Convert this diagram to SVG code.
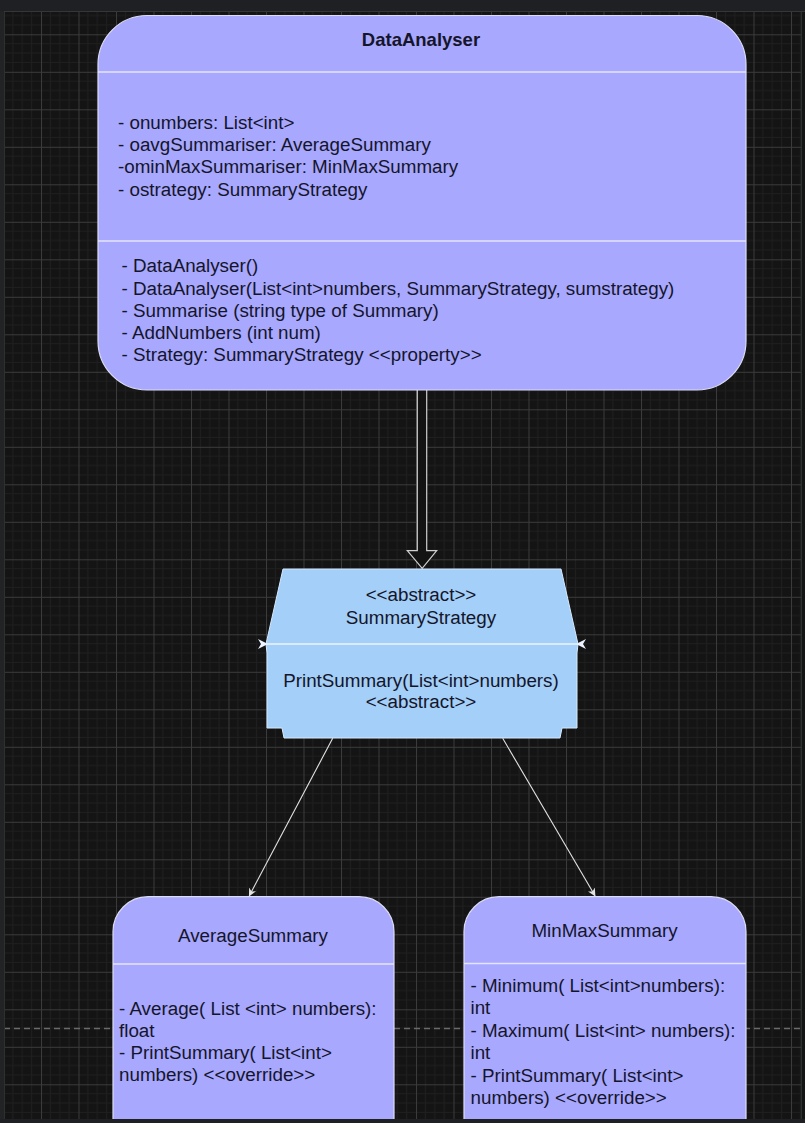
<svg xmlns="http://www.w3.org/2000/svg" width="805" height="1123" viewBox="0 0 805 1123">
  <defs>
    <style>
      .txt { font-family: "Liberation Sans", Arial, sans-serif; font-size: 18.8px; fill: #15152a; }
      .bold { font-weight: bold; font-size: 18.5px; }
      .mid { text-anchor: middle; }
      .cls { fill: #a8a8ff; stroke: #dcdcf4; stroke-width: 1.2; }
      .div { stroke: #e4e4ff; stroke-width: 1.5; fill: none; }
      .link { stroke: #e2e2e2; stroke-width: 1.1; fill: none; }
    </style>
    <!-- canvas grid: fine lines every 9.375, heavier every 37.5 -->
    <pattern id="grid" x="3.5" y="-3.2" width="37.5" height="37.5" patternUnits="userSpaceOnUse">
      <path d="M9.375 0V37.5M18.75 0V37.5M28.125 0V37.5M0 9.375H37.5M0 18.75H37.5M0 28.125H37.5" stroke="#1f1f1f" stroke-width="1" fill="none"/>
      <path d="M0.5 0V37.5M0 0.5H37.5" stroke="#3b3b3b" stroke-width="1" fill="none"/>
    </pattern>
    <marker id="classic" viewBox="0 0 10 10" refX="9" refY="5" markerWidth="8" markerHeight="8" markerUnits="userSpaceOnUse" orient="auto">
      <path d="M0 0L10 5L0 10L3 5Z" fill="#e2e2e2"/>
    </marker>
    <marker id="half" viewBox="0 0 10 10" refX="1" refY="5" markerWidth="10" markerHeight="10" markerUnits="userSpaceOnUse" orient="auto-start-reverse">
      <path d="M10 0L0 5L10 10L7 5Z" fill="#eef4ff"/>
    </marker>
  </defs>

  <!-- canvas -->
  <rect x="0" y="0" width="805" height="1123" fill="#141414"/>
  <rect x="4" y="12" width="797" height="1107" fill="url(#grid)"/>
  <line x1="4" y1="1028.5" x2="801" y2="1028.5" stroke="#6a6a6a" stroke-width="1.5" stroke-dasharray="6 4"/>

  <!-- connectors -->
  <g id="connectors">
    <path d="M417.3 390V550.7H407.3L422.2 568.3L436.7 550.7H426.7V390" fill="#131313" stroke="#cfcfcf" stroke-width="1.2"/>
    <line class="link" x1="332.7" y1="738.3" x2="249.3" y2="895.7" marker-end="url(#classic)"/>
    <line class="link" x1="502.7" y1="738.3" x2="595" y2="895.7" marker-end="url(#classic)"/>
  </g>

  <!-- DataAnalyser class -->
  <g id="DataAnalyser">
    <path class="cls" d="M147 15.5H697A49 49 0 0 1 746 64.5V341A49 49 0 0 1 697 390H147A49 49 0 0 1 98 341V64.5A49 49 0 0 1 147 15.5Z"/>
    <line class="div" x1="98" y1="72" x2="746" y2="72"/>
    <line class="div" x1="98" y1="241" x2="746" y2="241"/>
    <text class="txt bold mid" x="421" y="46">DataAnalyser</text>
    <text class="txt" x="118" y="129.3">- onumbers: List&lt;int&gt;</text>
    <text class="txt" x="118" y="151.3">- oavgSummariser: AverageSummary</text>
    <text class="txt" x="118" y="173.3">-ominMaxSummariser: MinMaxSummary</text>
    <text class="txt" x="118" y="195.5">- ostrategy: SummaryStrategy</text>
    <text class="txt" x="121.5" y="272.3">- DataAnalyser()</text>
    <text class="txt" x="121.5" y="294.5">- DataAnalyser(List&lt;int&gt;numbers, SummaryStrategy, sumstrategy)</text>
    <text class="txt" x="121.5" y="316.7">- Summarise (string type of Summary)</text>
    <text class="txt" x="121.5" y="338.9">- AddNumbers (int num)</text>
    <text class="txt" x="121.5" y="361.1">- Strategy: SummaryStrategy &lt;&lt;property&gt;&gt;</text>
  </g>

  <!-- SummaryStrategy abstract class -->
  <g id="SummaryStrategy">
    <path d="M283 569H561L578 644L577 653V728H562L560 738H284L282 728H267V653L266 644Z" fill="#a3cff8" stroke="#d6eaff" stroke-width="1"/>
    <line x1="267" y1="644" x2="577" y2="644" stroke="#eef4ff" stroke-width="1.3" marker-start="url(#half)" marker-end="url(#half)"/>
    <text class="txt mid" x="421" y="601">&lt;&lt;abstract&gt;&gt;</text>
    <text class="txt mid" x="421" y="624">SummaryStrategy</text>
    <text class="txt mid" x="421" y="686.5">PrintSummary(List&lt;int&gt;numbers)</text>
    <text class="txt mid" x="421" y="708">&lt;&lt;abstract&gt;&gt;</text>
  </g>

  <!-- AverageSummary class -->
  <g id="AverageSummary">
    <path class="cls" d="M148 896.7H359A35 35 0 0 1 394 931.7V1140H113V931.7A35 35 0 0 1 148 896.7Z"/>
    <line class="div" x1="113" y1="964" x2="394" y2="964"/>
    <text class="txt mid" x="253" y="941.7">AverageSummary</text>
    <text class="txt" x="119" y="1015">- Average( List &lt;int&gt; numbers):</text>
    <text class="txt" x="119" y="1036.8">float</text>
    <text class="txt" x="119" y="1059.3">- PrintSummary( List&lt;int&gt;</text>
    <text class="txt" x="119" y="1081.2">numbers) &lt;&lt;override&gt;&gt;</text>
  </g>

  <!-- MinMaxSummary class -->
  <g id="MinMaxSummary">
    <path class="cls" d="M499 896.7H711A35 35 0 0 1 746 931.7V1140H464V931.7A35 35 0 0 1 499 896.7Z"/>
    <line class="div" x1="464" y1="963.5" x2="746" y2="963.5"/>
    <text class="txt mid" x="604.5" y="936.7">MinMaxSummary</text>
    <text class="txt" x="470.5" y="992.3">- Minimum( List&lt;int&gt;numbers):</text>
    <text class="txt" x="470.5" y="1014.3">int</text>
    <text class="txt" x="470.5" y="1036.7">- Maximum( List&lt;int&gt; numbers):</text>
    <text class="txt" x="470.5" y="1058.7">int</text>
    <text class="txt" x="470.5" y="1081.7">- PrintSummary( List&lt;int&gt;</text>
    <text class="txt" x="470.5" y="1104">numbers) &lt;&lt;override&gt;&gt;</text>
  </g>

  <!-- window frame -->
  <rect x="0" y="0" width="805" height="11" fill="#1f2023"/>
  <line x1="0" y1="11.5" x2="805" y2="11.5" stroke="#34363a" stroke-width="1"/>
  <rect x="0" y="11" width="4" height="1112" fill="#222325"/>
  <line x1="4.5" y1="12" x2="4.5" y2="1119" stroke="#2e2f31" stroke-width="1"/>
  <line x1="801.5" y1="12" x2="801.5" y2="1119" stroke="#2e2f31" stroke-width="1"/>
  <rect x="0" y="1119" width="805" height="4" fill="#1f2023"/>
</svg>
